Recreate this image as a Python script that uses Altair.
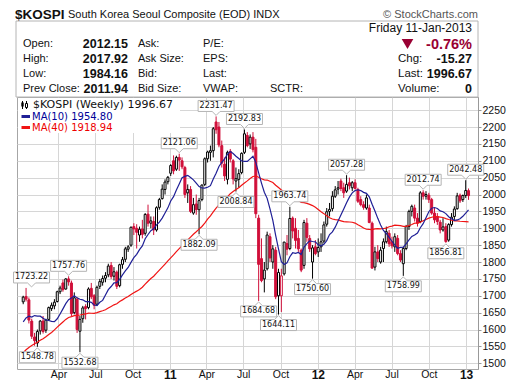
import altair as alt
import pandas as pd

RED = "#d0103a"
DARK_RED = "#990033"
MA10_C = "#1f1f96"
MA40_C = "#f01414"
GRID = "#d6d6d6"

# ---------------- weekly candles (weeks starting Monday 4-Jan-2010) ----------------
open_2010 = [1682, 1698, 1688, 1625, 1578, 1560, 1596, 1625, 1598, 1630,
             1662, 1670, 1683, 1712, 1738, 1720, 1750, 1738, 1650, 1690,
             1595, 1632, 1668, 1665, 1722, 1700, 1675, 1728, 1740, 1752,
             1762, 1790, 1758, 1770, 1730, 1793, 1808, 1838, 1850, 1905,
             1900, 1880, 1898, 1885, 1942, 1915, 1920, 1895, 1962, 1988,
             2015, 2038]
high_2010 = [1700, 1723.22, 1695, 1632, 1590, 1600, 1628, 1640, 1632, 1668,
             1680, 1690, 1715, 1730, 1748, 1752, 1757.76, 1745, 1710, 1695,
             1640, 1670, 1675, 1725, 1738, 1705, 1730, 1750, 1760, 1770,
             1795, 1800, 1785, 1775, 1795, 1815, 1845, 1850, 1905, 1915,
             1912, 1905, 1925, 1945, 1970, 1935, 1935, 1965, 1990, 2030,
             2045, 2055]
low_2010 = [1675, 1683, 1618, 1572, 1552, 1548.78, 1585, 1588, 1590, 1625,
            1655, 1660, 1680, 1705, 1712, 1718, 1730, 1640, 1645, 1590,
            1532.68, 1620, 1630, 1660, 1690, 1660, 1670, 1720, 1730, 1740,
            1755, 1750, 1745, 1720, 1725, 1780, 1800, 1830, 1845, 1880,
            1840, 1860, 1870, 1878, 1905, 1900, 1880, 1890, 1955, 1985,
            2000, 2030]
close_2010 = [1696, 1690, 1628, 1580, 1567, 1594, 1625, 1594, 1628, 1665,
              1672, 1681, 1712, 1723, 1718, 1750, 1741, 1647, 1694, 1600,
              1630, 1664, 1662, 1720, 1697, 1672, 1725, 1742, 1751, 1760,
              1788, 1757, 1771, 1728, 1792, 1807, 1839, 1845, 1903, 1898,
              1888, 1897, 1882, 1941, 1915, 1922, 1895, 1961, 1985, 2016,
              2037, 2051]

open_2011 = [2063, 2100, 2075, 2110, 2100, 2080, 2005, 2015, 1945, 1972,
             1955, 1985, 2030, 2106, 2125, 2130, 2215, 2200, 2145, 2090,
             2045, 2128, 2100, 2040, 2045, 2065, 2125, 2175, 2150, 2170,
             2140, 1930, 1810, 1750, 1780, 1875, 1800, 1835, 1700, 1700,
             1765, 1855, 1840, 1930, 1900, 1870, 1835, 1790, 1915, 1870,
             1800, 1845]
high_2011 = [2090, 2116, 2115, 2121.06, 2110, 2085, 2030, 2025, 1990, 2000,
             1990, 2030, 2110, 2130, 2145, 2200, 2231.47, 2215, 2160, 2110,
             2130, 2135, 2105, 2080, 2075, 2125, 2192.83, 2185, 2178, 2185,
             2165, 1940, 1870, 1800, 1890, 1885, 1850, 1845, 1780, 1780,
             1860, 1880, 1963.74, 1935, 1930, 1895, 1840, 1925, 1930, 1880,
             1850, 1865]
low_2011 = [2055, 2060, 2070, 2070, 2075, 1990, 1975, 1945, 1940, 1940,
            1882.09, 1980, 2025, 2095, 2100, 2110, 2180, 2140, 2080, 2040,
            2030, 2095, 2030, 2008.84, 2020, 2060, 2120, 2140, 2135, 2125,
            1930, 1684.68, 1740, 1710, 1775, 1800, 1780, 1690, 1644.11, 1652,
            1760, 1820, 1835, 1870, 1840, 1830, 1770, 1780, 1860, 1830,
            1750.60, 1820]
close_2011 = [2086, 2070, 2110, 2102, 2082, 2000, 2015, 1950, 1970, 1955,
              1982, 2028, 2106, 2126, 2130, 2195, 2192, 2147, 2093, 2055,
              2125, 2105, 2046, 2047, 2062, 2122, 2180, 2145, 2170, 2133,
              1943, 1793, 1745, 1776, 1880, 1812, 1839, 1697, 1769, 1759,
              1859, 1838, 1929, 1892, 1864, 1839, 1776, 1917, 1873, 1839,
              1842, 1825]

open_2012 = [1830, 1845, 1862, 1912, 1950, 1958, 1995, 2016, 2040, 2020,
             2010, 2035, 2020, 2035, 2015, 1985, 1970, 1960, 1960, 1915,
             1785, 1830, 1800, 1840, 1860, 1885, 1860, 1845, 1870, 1825,
             1795, 1840, 1905, 1950, 1960, 1930, 1920, 2005, 1995, 1998,
             1985, 1945, 1935, 1918, 1895, 1905, 1865, 1911, 1935, 1958,
             1998, 1985, 1997]
high_2012 = [1870, 1885, 1920, 1960, 1975, 2010, 2025, 2040, 2047, 2035,
             2057.28, 2050, 2040, 2045, 2020, 1995, 1980, 2000, 1970, 1920,
             1845, 1850, 1845, 1870, 1905, 1895, 1875, 1885, 1880, 1835,
             1845, 1910, 1955, 1970, 1970, 1945, 2010, 2012.74, 2010, 2005,
             1990, 1960, 1945, 1925, 1930, 1915, 1915, 1945, 1965, 2005,
             2003, 2000, 2042.48]
low_2012 = [1815, 1830, 1855, 1905, 1935, 1950, 1990, 2000, 2010, 1990,
            2005, 2015, 2010, 2015, 1975, 1965, 1955, 1955, 1915, 1780,
            1775, 1800, 1795, 1800, 1855, 1845, 1840, 1830, 1820, 1800,
            1758.99, 1835, 1895, 1935, 1920, 1905, 1915, 1985, 1985, 1975,
            1940, 1915, 1910, 1885, 1890, 1856.81, 1860, 1905, 1925, 1955,
            1975, 1978, 1990]
close_2012 = [1843, 1860, 1910, 1949, 1956, 1995, 2014, 2020, 2018, 2005,
              2030, 2026, 2035, 2018, 1980, 1970, 1962, 1990, 1917, 1782,
              1830, 1810, 1835, 1860, 1890, 1854, 1848, 1875, 1825, 1806,
              1840, 1905, 1950, 1965, 1930, 1915, 2005, 1995, 2000, 1985,
              1945, 1925, 1920, 1895, 1904, 1860.8, 1911, 1932.9, 1957, 1996,
              1981, 1997.05, 2011.94]

open_2013 = [2011.5]
high_2013 = [2017.92]
low_2013 = [1984.16]
close_2013 = [1996.67]

# weekly closes before the visible range (Apr-Dec 2009), only to warm up the moving averages
close_2009 = [1336, 1356, 1344, 1369, 1412, 1390, 1400, 1395, 1400, 1430,
              1380, 1390, 1407, 1420, 1440, 1510, 1557, 1577, 1570, 1581,
              1591, 1608, 1624, 1709, 1681, 1644, 1617, 1656, 1643, 1580,
              1572, 1577, 1603, 1524, 1610, 1628, 1657, 1676, 1682]

# annotated highs / lows: week number, value, side
label_weeks = [1, 5, 16, 20, 55, 62, 68, 75, 78, 83, 90, 94, 102, 114, 134, 141, 149, 156]
label_values = [1723.22, 1548.78, 1757.76, 1532.68, 2121.06, 1882.09, 2231.47, 2008.84,
                2192.83, 1684.68, 1644.11, 1963.74, 1750.60, 2057.28, 1758.99, 2012.74,
                1856.81, 2042.48]
label_side = ["above", "below", "above", "below", "above", "below", "above", "below",
              "above", "below", "below", "above", "below", "above", "below", "above",
              "below", "above"]

y_ticks = [1500, 1550, 1600, 1650, 1700, 1750, 1800, 1850, 1900, 1950,
           2000, 2050, 2100, 2150, 2200, 2250]
quarter_ticks = [(2010, 4), (2010, 7), (2010, 10), (2011, 1), (2011, 4), (2011, 7),
                 (2011, 10), (2012, 1), (2012, 4), (2012, 7), (2012, 10), (2013, 1)]

# ---------------- tables ----------------
opens = open_2010 + open_2011 + open_2012 + open_2013
highs = high_2010 + high_2011 + high_2012 + high_2013
lows = low_2010 + low_2011 + low_2012 + low_2013
closes = close_2010 + close_2011 + close_2012 + close_2013
n = len(closes)
weeks = list(pd.date_range("2010-01-04", periods=n, freq="7D").strftime("%Y-%m-%d"))
warm_weeks = list(pd.date_range(end="2009-12-28", periods=len(close_2009), freq="7D").strftime("%Y-%m-%d"))

df = pd.DataFrame({"date": weeks, "open": opens, "high": highs, "low": lows, "close": closes})
prev = df["close"].shift(1).fillna(df["open"])
df["tone"] = ["up" if c >= p else "down" for c, p in zip(df["close"], prev)]
df["body"] = ["hollow" if c >= o else t for c, o, t in zip(df["close"], df["open"], df["tone"])]

ma_src = pd.DataFrame({
    "idx": list(range(-len(close_2009), n)),
    "date": warm_weeks + weeks,
    "close": close_2009 + closes,
})

lab = pd.DataFrame({
    "date": [weeks[i] for i in label_weeks],
    "value": label_values,
    "side": label_side,
})
lab["text"] = [f"{v:.2f}" for v in lab["value"]]

# ---------------- scales / axes ----------------
X0, Y0 = 17, 97  # page position of the plot area's top-left corner
W, H = 461, 272

xsc = alt.Scale(type="utc", nice=False,
                domain=[alt.DateTime(year=2010, month=1, date=1, utc=True),
                        alt.DateTime(year=2013, month=1, date=18, utc=True)])
ysc = alt.Scale(domain=[1483, 2289], nice=False, zero=False)

is_year = "utcmonth(datum.value) == 0"
x_axis = alt.Axis(
    values=[alt.DateTime(year=y, month=m, date=1, utc=True) for y, m in quarter_ticks],
    grid=True, gridColor=GRID, ticks=False, domain=False, title=None,
    labelExpr="utcFormat(datum.value, " + is_year + " ? '%y' : '%b')",
    labelFont="Liberation Sans", labelColor="#111",
    labelFontSize={"condition": {"test": is_year, "value": 12}, "value": 10.5},
    labelFontWeight={"condition": {"test": is_year, "value": "bold"}, "value": "normal"},
    labelPadding=5, labelBaseline="middle", labelFlush=False, labelOverlap=False,
)
y_axis = alt.Axis(
    orient="right", values=y_ticks, grid=True, gridColor=GRID, title=None, format="d",
    domain=True, domainColor="#999999", tickColor="#999999", tickSize=3,
    labelFont="Liberation Sans", labelFontSize=10.5, labelColor="#111", labelPadding=1,
    labelFlush=False, labelOverlap=False,
)


def X(field="date:T"):
    return alt.X(field, scale=xsc, axis=x_axis, title=None)


def Y(field):
    return alt.Y(field, scale=ysc, axis=y_axis, title=None)


tone_scale = alt.Scale(domain=["up", "down"], range=["#000000", RED])
body_scale = alt.Scale(domain=["hollow", "up", "down"], range=["#ffffff", "#000000", RED])

base = alt.Chart(df)
wicks = base.mark_rule(strokeWidth=1).encode(
    x=X(), y=Y("low:Q"), y2="high:Q",
    stroke=alt.Stroke("tone:N", scale=tone_scale, legend=None),
)
bodies = base.mark_bar(size=2, strokeWidth=1).encode(
    x=X(), y=Y("open:Q"), y2="close:Q",
    fill=alt.Fill("body:N", scale=body_scale, legend=None),
    stroke=alt.Stroke("tone:N", scale=tone_scale, legend=None),
)

ma_base = (alt.Chart(ma_src)
           .transform_window(ma10="mean(close)", frame=[-9, 0], sort=[{"field": "idx"}])
           .transform_window(ma40="mean(close)", frame=[-39, 0], sort=[{"field": "idx"}])
           .transform_filter("datum.idx >= 0"))
ma40 = ma_base.mark_line(color=MA40_C, strokeWidth=1.2).encode(x=X(), y=Y("ma40:Q"))
ma10 = ma_base.mark_line(color=MA10_C, strokeWidth=1.2).encode(x=X(), y=Y("ma10:Q"))

# callout boxes (tip at the high/low)
ABOVE = "M0,0L-0.22,-0.22L-1,-0.22L-1,-0.83L1,-0.83L1,-0.22L0.22,-0.22Z"
BELOW = "M0,0L0.22,0.22L1,0.22L1,0.83L-1,0.83L-1,0.22L-0.22,0.22Z"


def callouts(data, path, dy, yoff, xoff=0):
    box = alt.Chart(data).mark_point(
        shape=path, size=1296, filled=True, fill="white", stroke="#b4b4b4",
        strokeWidth=1, opacity=1, yOffset=yoff, xOffset=xoff,
    ).encode(x=X(), y=Y("value:Q"))
    txt = alt.Chart(data).mark_text(
        font="DejaVu Sans", fontSize=8, color="#111", dy=dy, dx=xoff, baseline="middle",
    ).encode(x=X(), y=Y("value:Q"), text="text:N")
    return [box, txt]


edge = lab.iloc[:1]
above = lab.iloc[1:][lab.iloc[1:]["side"] == "above"]
below = lab.iloc[1:][lab.iloc[1:]["side"] == "below"]
label_layers = (callouts(edge, ABOVE, -10.5, -1, 5.5) + callouts(above, ABOVE, -10.5, -1)
                + callouts(below, BELOW, 10.5, 1))


def one():
    return alt.Chart(alt.Data(values=[{"t": ""}]))


def txt(s, px, py, size=11, weight="normal", align="left", color="#111", font="Liberation Sans"):
    return alt.Chart(alt.Data(values=[{"t": s}])).mark_text(
        align=align, baseline="middle", fontSize=size, fontWeight=weight, color=color, font=font,
    ).encode(x=alt.value(px - X0), y=alt.value(py - Y0), text="t:N")


def box(x1, y1, x2, y2, fill="white", stroke=None, sw=1):
    kw = {"fill": fill}
    if stroke:
        kw.update(stroke=stroke, strokeWidth=sw)
    else:
        kw.update(strokeWidth=0)
    return one().mark_rect(**kw).encode(
        x=alt.value(x1 - X0), x2=alt.value(x2 - X0), y=alt.value(y1 - Y0), y2=alt.value(y2 - Y0))


def hline(x1, x2, y, color, sw):
    return one().mark_rule(color=color, strokeWidth=sw).encode(
        x=alt.value(x1 - X0), x2=alt.value(x2 - X0), y=alt.value(y - Y0))


def vline(x, y1, y2, color="#000", sw=1):
    return one().mark_rule(color=color, strokeWidth=sw).encode(
        x=alt.value(x - X0), y=alt.value(y1 - Y0), y2=alt.value(y2 - Y0))


header = [
    box(16, 21, 478, 97, "white", "#b4b4b4"),
    txt("$KOSPI", 15, 15, size=13.5, weight="bold", color="#111"),
    txt("South Korea Seoul Composite (EOD) INDX", 68, 15, size=11),
    txt("© StockCharts.com", 478, 15, size=11, align="right", color="#555"),
    txt("Friday  11-Jan-2013", 472, 28, size=12, align="right"),
    one().mark_point(shape="triangle-down", filled=True, size=135, color=DARK_RED, opacity=1).encode(
        x=alt.value(407.5 - X0), y=alt.value(44 - Y0)),
    txt("-0.76%", 472, 44.5, size=14.5, weight="bold", align="right", color=DARK_RED),
    txt("Chg:", 398, 59, size=11.5), txt("-15.27", 472, 59, size=12.5, weight="bold", align="right"),
    txt("Last:", 398, 73.5, size=11.5), txt("1996.67", 472, 73.5, size=12.5, weight="bold", align="right"),
    txt("Volume:", 398, 88.5, size=11.5), txt("0", 472, 88.5, size=12.5, weight="bold", align="right"),
]
rows = [("Open:", "2012.15", "Ask:", "P/E:", 44),
        ("High:", "2017.92", "Ask Size:", "EPS:", 59),
        ("Low:", "1984.16", "Bid:", "Last:", 73.5),
        ("Prev Close:", "2011.94", "Bid Size:", "VWAP:", 88.5)]
for a, v, b, c, yy in rows:
    header += [txt(a, 23, yy, size=11), txt(v, 128, yy, size=12.5, weight="bold", align="right"),
               txt(b, 138, yy, size=11), txt(c, 203, yy, size=11)]
header.append(txt("SCTR:", 270, 88.5, size=11))

legend = [
    box(18, 98, 180, 133, "white"),
    vline(22.5, 101, 109), box(21.3, 102.5, 23.7, 106.5, "#000"),
    vline(26.5, 101, 109), box(25.5, 103.5, 27.5, 107.5, "white", "#000"),
    txt("$KOSPI (Weekly) 1996.67", 33, 105, size=11, font="DejaVu Sans", color="#111"),
    hline(21.5, 30, 116.5, MA10_C, 3),
    txt("MA(10) 1954.80", 32, 116.5, size=10, font="DejaVu Sans", color="#000099"),
    hline(21.5, 30, 127.5, MA40_C, 3),
    txt("MA(40) 1918.94", 32, 127.5, size=10, font="DejaVu Sans", color="#ee0000"),
]

chart = alt.layer(
    wicks, bodies, ma40, ma10, *label_layers, *header, *legend,
).properties(
    width=W, height=H,
    autosize=alt.AutoSizeParams(type="none"),
    padding={"left": X0 - 8, "top": Y0 - 8, "right": 503 - (X0 - 8) - W, "bottom": 373 - (Y0 - 8) - H},
    background="white",
).configure_view(stroke="#a6a6a6", strokeWidth=1)

chart.save("out.html", embed_options={"renderer": "svg", "actions": False})
